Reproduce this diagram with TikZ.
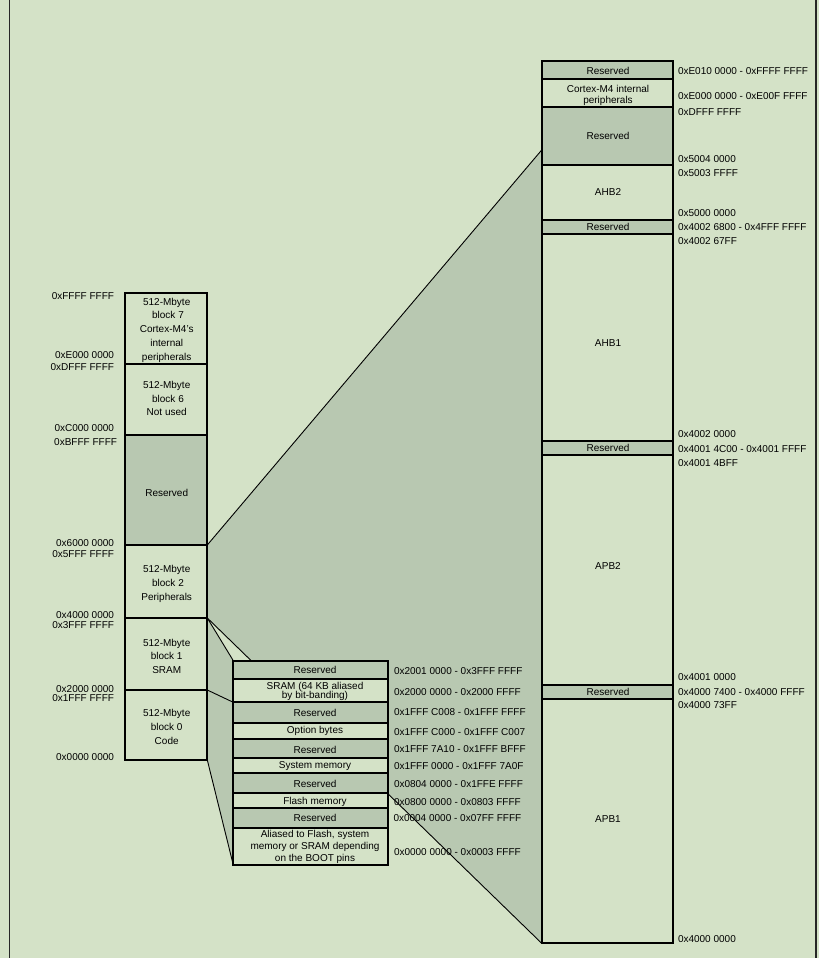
\documentclass[tikz,border=0pt]{standalone}
\usepackage{fontspec}
\setmainfont{Liberation Sans}
\definecolor{bgc}{HTML}{D4E2C7}
\definecolor{rsv}{HTML}{B8C8B1}
\begin{document}
\begin{tikzpicture}[x=1bp,y=-1bp,
  font=\fontsize{10bp}{12bp}\selectfont,
  blk/.style={draw=black, line width=2bp, fill=bgc},
  rblk/.style={blk, fill=rsv},
  lbl/.style={inner sep=0pt, outer sep=0pt, text height=7.16bp, text depth=0pt},
  txt/.style={lbl, anchor=center},
  addrL/.style={lbl, anchor=east},
  addrR/.style={lbl, anchor=west},
  zoomline/.style={line width=0.9bp, draw=black},
  frame/.style={line width=1.6bp, draw=black!85}]

\useasboundingbox (0,0) rectangle (819,958);
\fill[bgc] (0,0) rectangle (819,958);
\draw[frame] (9.3,0) -- (9.3,958);
\draw[frame] (816,0) -- (816,958);

% zoom coordinates
\coordinate (Ltop2) at (207.3,545);
\coordinate (Lbot2) at (207.3,618);
\coordinate (Lmid01) at (207.3,690);
\coordinate (Lbot0) at (207.3,760);
\coordinate (Rzt) at (541.7,150);
\coordinate (Rzb) at (541.7,943.3);
\coordinate (Mtop) at (233.3,660.7);
\coordinate (Msram) at (233.3,702.3);
\coordinate (Mbot) at (233.3,865);

\fill[rsv] (Ltop2) -- (Rzt) -- (Rzb) -- (Lbot2) -- cycle;
\fill[rsv] (Lbot2) -- (Mtop) -- (Mbot) -- (Lbot0) -- cycle;
\draw[zoomline] (Ltop2) -- (Rzt);
\draw[zoomline] (Lbot2) -- (Rzb);
\draw[zoomline] (Lbot2) -- (Mtop);
\draw[zoomline] (Lmid01) -- (Msram);
\draw[zoomline] (Lbot0) -- (Mbot);

% ---------------- left column ----------------
\draw[blk]  (125,293)   rectangle (207.3,363.5);
\draw[blk]  (125,363.5) rectangle (207.3,434.5);
\draw[rblk] (125,434.5) rectangle (207.3,545);
\draw[blk]  (125,545)   rectangle (207.3,618);
\draw[blk]  (125,618)   rectangle (207.3,690);
\draw[blk]  (125,690)   rectangle (207.3,760);

\node[txt] (b7a) at (166.7,301.7) {512-Mbyte};
\node[txt] (b7b) at (168,315) {block 7};
\node[txt] (b7c) at (166.7,329) {Cortex-M4's};
\node[txt] (b7d) at (166.7,343) {internal};
\node[txt] (b7e) at (166.7,357) {peripherals};
\node[txt] (b6a) at (166.7,385) {512-Mbyte};
\node[txt] (b6b) at (168,398.7) {block 6};
\node[txt] (b6c) at (166.7,412.3) {Not used};
\node[txt] (lres) at (166.7,492.7) {Reserved};
\node[txt] (b2a) at (166.7,569) {512-Mbyte};
\node[txt] (b2b) at (168,583) {block 2};
\node[txt] (b2c) at (166.7,597) {Peripherals};
\node[txt] (b1a) at (166.7,642.7) {512-Mbyte};
\node[txt] (b1b) at (166.7,656) {block 1};
\node[txt] (b1c) at (166.7,670) {SRAM};
\node[txt] (b0a) at (166.7,713) {512-Mbyte};
\node[txt] (b0b) at (166.7,727) {block 0};
\node[txt] (b0c) at (166.7,741) {Code};

\node[addrL] (la1) at (114,296) {0xFFFF FFFF};
\node[addrL] (la2) at (114,355) {0xE000 0000};
\node[addrL] (la3) at (114,367) {0xDFFF FFFF};
\node[addrL] (la4) at (114,428) {0xC000 0000};
\node[addrL] (la5) at (117,441.5) {0xBFFF FFFF};
\node[addrL] (la6) at (114,543) {0x6000 0000};
\node[addrL] (la7) at (114,554) {0x5FFF FFFF};
\node[addrL] (la8) at (114,615) {0x4000 0000};
\node[addrL] (la9) at (114,625) {0x3FFF FFFF};
\node[addrL] (la10) at (114,688.7) {0x2000 0000};
\node[addrL] (la11) at (114,698) {0x1FFF FFFF};
\node[addrL] (la12) at (114,756.7) {0x0000 0000};

% ---------------- middle column ----------------
\draw[rblk] (233.3,660.7) rectangle (388.3,679);
\draw[blk]  (233.3,679)   rectangle (388.3,702.3);
\draw[rblk] (233.3,702.3) rectangle (388.3,722.7);
\draw[blk]  (233.3,722.7) rectangle (388.3,739.3);
\draw[rblk] (233.3,739.3) rectangle (388.3,758.3);
\draw[blk]  (233.3,758.3) rectangle (388.3,773.3);
\draw[rblk] (233.3,773.3) rectangle (388.3,793.3);
\draw[blk]  (233.3,793.3) rectangle (388.3,808.3);
\draw[rblk] (233.3,808.3) rectangle (388.3,827.7);
\draw[blk]  (233.3,827.7) rectangle (388.3,865);

\node[txt] (m1) at (315,670.3) {Reserved};
\node[txt] (m2a) at (315,685.7) {SRAM (64 KB aliased};
\node[txt] (m2b) at (315,695) {by bit-banding)};
\node[txt] (m3) at (315,713) {Reserved};
\node[txt] (m4) at (315,730) {Option bytes};
\node[txt] (m5) at (315,750) {Reserved};
\node[txt] (m6) at (315,765) {System memory};
\node[txt] (m7) at (315,784) {Reserved};
\node[txt] (m8) at (315,801) {Flash memory};
\node[txt] (m9) at (315,818.3) {Reserved};
\node[txt] (m10a) at (315,834.3) {Aliased to Flash, system};
\node[txt] (m10b) at (315,846.3) {memory or SRAM depending};
\node[txt] (m10c) at (315,858.3) {on the BOOT pins};

\node[addrR] (ma1) at (394,670.7) {0x2001 0000 - 0x3FFF FFFF};
\node[addrR] (ma2) at (394,691.7) {0x2000 0000 - 0x2000 FFFF};
\node[addrR] (ma3) at (394,711.7) {0x1FFF C008 - 0x1FFF FFFF};
\node[addrR] (ma4) at (394,732.3) {0x1FFF C000 - 0x1FFF C007};
\node[addrR] (ma5) at (394,749) {0x1FFF 7A10 - 0x1FFF BFFF};
\node[addrR] (ma6) at (394,766) {0x1FFF 0000 - 0x1FFF 7A0F};
\node[addrR] (ma7) at (394,784) {0x0804 0000 - 0x1FFE FFFF};
\node[addrR] (ma8) at (394,801.7) {0x0800 0000 - 0x0803 FFFF};
\node[addrR] (ma9) at (393.5,818.3) {0x0004 0000 - 0x07FF FFFF};
\node[addrR] (ma10) at (394,851.7) {0x0000 0000 - 0x0003 FFFF};

% ---------------- right column ----------------
\draw[rblk] (541.7,61)    rectangle (673.3,79.3);
\draw[blk]  (541.7,79.3)  rectangle (673.3,107.3);
\draw[rblk] (541.7,107.3) rectangle (673.3,165);
\draw[blk]  (541.7,165)   rectangle (673.3,220);
\draw[rblk] (541.7,220)   rectangle (673.3,234.3);
\draw[blk]  (541.7,234.3) rectangle (673.3,441);
\draw[rblk] (541.7,441)   rectangle (673.3,455.3);
\draw[blk]  (541.7,455.3) rectangle (673.3,685);
\draw[rblk] (541.7,685)   rectangle (673.3,699.3);
\draw[blk]  (541.7,699.3) rectangle (673.3,943.3);

\node[txt] (r1) at (608,70.7) {Reserved};
\node[txt] (r2a) at (608,89.3) {Cortex-M4 internal};
\node[txt] (r2b) at (608,100) {peripherals};
\node[txt] (r3) at (608,136) {Reserved};
\node[txt] (r4) at (608,191.7) {AHB2};
\node[txt] (r5) at (608,227) {Reserved};
\node[txt] (r6) at (608,343) {AHB1};
\node[txt] (r7) at (608,448) {Reserved};
\node[txt] (r8) at (608,566) {APB2};
\node[txt] (r9) at (608,692) {Reserved};
\node[txt] (r10) at (608,819) {APB1};

\node[addrR] (ra1) at (678,71) {0xE010 0000 - 0xFFFF FFFF};
\node[addrR] (ra2) at (678,95.7) {0xE000 0000 - 0xE00F FFFF};
\node[addrR] (ra3) at (678,112.3) {0xDFFF FFFF};
\node[addrR] (ra4) at (678,159.3) {0x5004 0000};
\node[addrR] (ra5) at (678,172.7) {0x5003 FFFF};
\node[addrR] (ra6) at (678,213.3) {0x5000 0000};
\node[addrR] (ra7) at (678,226.7) {0x4002 6800 - 0x4FFF FFFF};
\node[addrR] (ra8) at (678,240.7) {0x4002 67FF};
\node[addrR] (ra9) at (678,434) {0x4002 0000};
\node[addrR] (ra10) at (678,449.3) {0x4001 4C00 - 0x4001 FFFF};
\node[addrR] (ra11) at (678,463.3) {0x4001 4BFF};
\node[addrR] (ra12) at (678,676.7) {0x4001 0000};
\node[addrR] (ra13) at (678,691.7) {0x4000 7400 - 0x4000 FFFF};
\node[addrR] (ra14) at (678,705) {0x4000 73FF};
\node[addrR] (ra15) at (678,939) {0x4000 0000};
\end{tikzpicture}
\end{document}
